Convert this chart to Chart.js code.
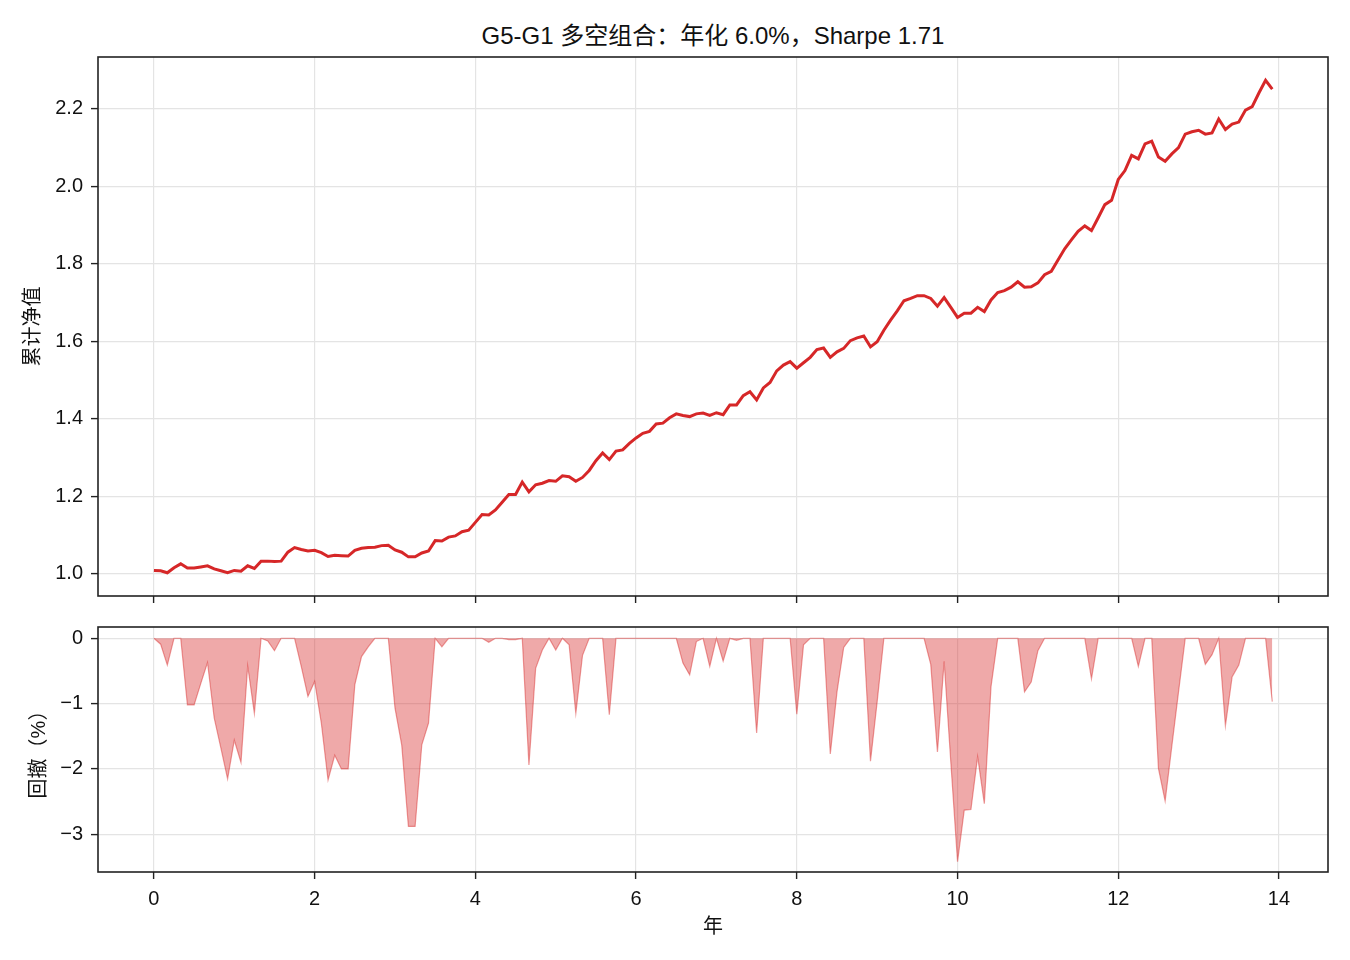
<!DOCTYPE html>
<html>
<head>
<meta charset="utf-8">
<script src="https://cdn.jsdelivr.net/npm/chart.js@4/dist/chart.umd.min.js"></script>
<style>
    body { margin: 0; background: #fff; width: 1350px; height: 960px; position: relative; overflow: hidden;
           font-family: "Liberation Sans", "Noto Sans CJK SC", sans-serif; }
    #title { position: absolute; top: 21px; left: 98px; width: 1230px; text-align: center;
             font-size: 24px; line-height: 30px; color: #111; }
    .box { position: absolute; left: 0; width: 1350px; }
</style>
</head>
<body>
<div id="title">G5-G1 多空组合：年化 6.0%，Sharpe 1.71</div>
<div class="box" style="top:0;height:610px"><canvas id="navChart"></canvas></div>
<div class="box" style="top:610px;height:350px"><canvas id="ddChart"></canvas></div>

<script>
// cumulative NAV, one value per month
const nav = [
    1.009, 1.008, 1.003, 1.016, 1.026, 1.015, 1.015, 1.018, 1.021, 1.013,
    1.008, 1.003, 1.009, 1.007, 1.021, 1.014, 1.033, 1.033, 1.032, 1.033,
    1.056, 1.068, 1.063, 1.059, 1.061, 1.055, 1.045, 1.048, 1.047, 1.046,
    1.061, 1.066, 1.068, 1.069, 1.073, 1.074, 1.062, 1.056, 1.044, 1.044,
    1.054, 1.059, 1.086, 1.085, 1.095, 1.098, 1.109, 1.113, 1.133, 1.153,
    1.152, 1.165, 1.185, 1.205, 1.205, 1.237, 1.212, 1.230, 1.234, 1.241,
    1.239, 1.253, 1.251, 1.239, 1.249, 1.267, 1.292, 1.312, 1.295, 1.317,
    1.320, 1.337, 1.351, 1.363, 1.368, 1.387, 1.389, 1.403, 1.413, 1.409,
    1.406, 1.413, 1.415, 1.409, 1.416, 1.411, 1.436, 1.436, 1.460, 1.470,
    1.449, 1.480, 1.494, 1.524, 1.539, 1.548, 1.531, 1.545, 1.559, 1.579,
    1.583, 1.559, 1.573, 1.582, 1.602, 1.609, 1.614, 1.586, 1.599, 1.629,
    1.655, 1.679, 1.705, 1.711, 1.718, 1.718, 1.711, 1.691, 1.713, 1.688,
    1.662, 1.673, 1.673, 1.688, 1.677, 1.707, 1.726, 1.731, 1.740, 1.754,
    1.740, 1.741, 1.751, 1.772, 1.781, 1.810, 1.839, 1.862, 1.884, 1.898,
    1.886, 1.919, 1.953, 1.964, 2.018, 2.041, 2.080, 2.071, 2.110, 2.117,
    2.076, 2.065, 2.084, 2.100, 2.135, 2.141, 2.145, 2.135, 2.138, 2.174,
    2.147, 2.161, 2.166, 2.197, 2.206, 2.241, 2.274, 2.251
];

// drawdown in %, same months
const drawdown = [
    0, -0.09, -0.41, 0, 0, -1.02, -1.02, -0.69, -0.37, -1.22,
    -1.68, -2.15, -1.56, -1.90, -0.42, -1.15, 0, -0.04, -0.19, 0,
    0, 0, -0.43, -0.89, -0.66, -1.30, -2.17, -1.79, -2.00, -2.00,
    -0.71, -0.28, -0.13, 0, 0, 0, -1.07, -1.63, -2.88, -2.88,
    -1.63, -1.30, 0, -0.13, 0, 0, 0, 0, 0, 0,
    -0.06, 0, 0, -0.02, -0.02, 0, -1.94, -0.46, -0.18, 0,
    -0.18, 0, -0.10, -1.15, -0.26, 0, 0, 0, -1.17, 0,
    0, 0, 0, 0, 0, 0, 0, 0, 0, -0.38,
    -0.56, -0.05, 0, -0.43, 0, -0.35, 0, -0.03, 0, 0,
    -1.45, 0, 0, 0, 0, 0, -1.16, -0.10, 0, 0,
    0, -1.77, -0.82, -0.14, 0, 0, 0, -1.88, -0.97, 0,
    0, 0, 0, 0, 0, 0, -0.40, -1.74, -0.35, -1.90,
    -3.42, -2.63, -2.62, -1.81, -2.53, -0.74, 0, 0, 0, 0,
    -0.82, -0.67, -0.19, 0, 0, 0, 0, 0, 0, 0,
    -0.62, 0, 0, 0, 0, 0, 0, -0.43, 0, 0,
    -1.99, -2.49, -1.65, -0.82, 0, 0, 0, -0.40, -0.25, 0,
    -1.34, -0.59, -0.41, 0, 0, 0, 0, -0.97
];

const xTicks = [0, 2, 4, 6, 8, 10, 12, 14];
const navTicks = [1.0, 1.2, 1.4, 1.6, 1.8, 2.0, 2.2];
const ddTicks = [0, -1, -2, -3];

// x position in years
const years = nav.map((_, i) => i / 12);

Chart.defaults.font.family = '"Liberation Sans", "Noto Sans CJK SC", sans-serif';
Chart.defaults.font.size = 20;
Chart.defaults.color = '#111';

const gridColor = '#e4e4e4';
const inkColor = '#222';

// box around the plot area, like matplotlib spines
const frame = {
    id: 'frame',
    afterDraw(chart) {
        const { ctx, chartArea: a } = chart;
        ctx.save();
        ctx.strokeStyle = inkColor;
        ctx.lineWidth = 1.6;
        ctx.strokeRect(a.left, a.top, a.right - a.left, a.bottom - a.top);
        ctx.restore();
    }
};

function fixedTicks(list) {
    return scale => { scale.ticks = list.map(v => ({ value: v })); };
}

function xScale(height, showLabels) {
    return {
        type: 'linear',
        min: -0.696,
        max: 14.61,
        afterBuildTicks: fixedTicks(xTicks),
        afterFit: s => { s.height = height; s.paddingLeft = 0; s.paddingRight = 0; },
        grid: { color: gridColor, lineWidth: 1.2, tickColor: inkColor, tickWidth: 1.4, tickLength: 7 },
        border: { display: false },
        ticks: { display: showLabels, padding: 8, maxRotation: 0, callback: v => String(v) },
        title: { display: showLabels, text: '年', padding: { top: 0, bottom: 21 } }
    };
}

function yScale(min, max, ticks, fmt, label, titlePad) {
    return {
        min: min,
        max: max,
        afterBuildTicks: fixedTicks(ticks),
        afterFit: s => { s.width = 98; s.paddingTop = 0; s.paddingBottom = 0; },
        grid: { color: gridColor, lineWidth: 1.2, tickColor: inkColor, tickWidth: 1.4, tickLength: 7 },
        border: { display: false },
        ticks: { padding: 8, callback: fmt },
        title: { display: true, text: label, padding: { top: titlePad, bottom: 0 } }
    };
}

const common = {
    responsive: true,
    maintainAspectRatio: false,
    animation: false,
    devicePixelRatio: 1,
    plugins: { legend: { display: false }, tooltip: { enabled: false } }
};

new Chart(document.getElementById('navChart'), {
    type: 'line',
    data: {
        datasets: [{
            data: nav.map((v, i) => ({ x: years[i], y: v })),
            borderColor: '#d62728',
            borderWidth: 3,
            pointRadius: 0,
            tension: 0,
            fill: false
        }]
    },
    options: {
        ...common,
        layout: { padding: { top: 57, right: 22, left: 0, bottom: 0 } },
        scales: {
            x: xScale(14, false),
            y: yScale(0.943, 2.334, navTicks, v => v.toFixed(1), '累计净值', 21)
        }
    },
    plugins: [frame]
});

new Chart(document.getElementById('ddChart'), {
    type: 'line',
    data: {
        datasets: [{
            data: drawdown.map((v, i) => ({ x: years[i], y: v })),
            borderColor: 'rgba(214, 39, 40, 0.45)',
            backgroundColor: 'rgba(214, 39, 40, 0.4)',
            borderWidth: 1.2,
            pointRadius: 0,
            tension: 0,
            fill: 'origin'
        }]
    },
    options: {
        ...common,
        layout: { padding: { top: 17, right: 22, left: 0, bottom: 0 } },
        scales: {
            x: xScale(88, true),
            y: yScale(-3.577, 0.173, ddTicks, v => (v < 0 ? '\u2212' + Math.abs(v) : String(v)), '回撤（%）', 27)
        }
    },
    plugins: [frame]
});
</script>
</body>
</html>
